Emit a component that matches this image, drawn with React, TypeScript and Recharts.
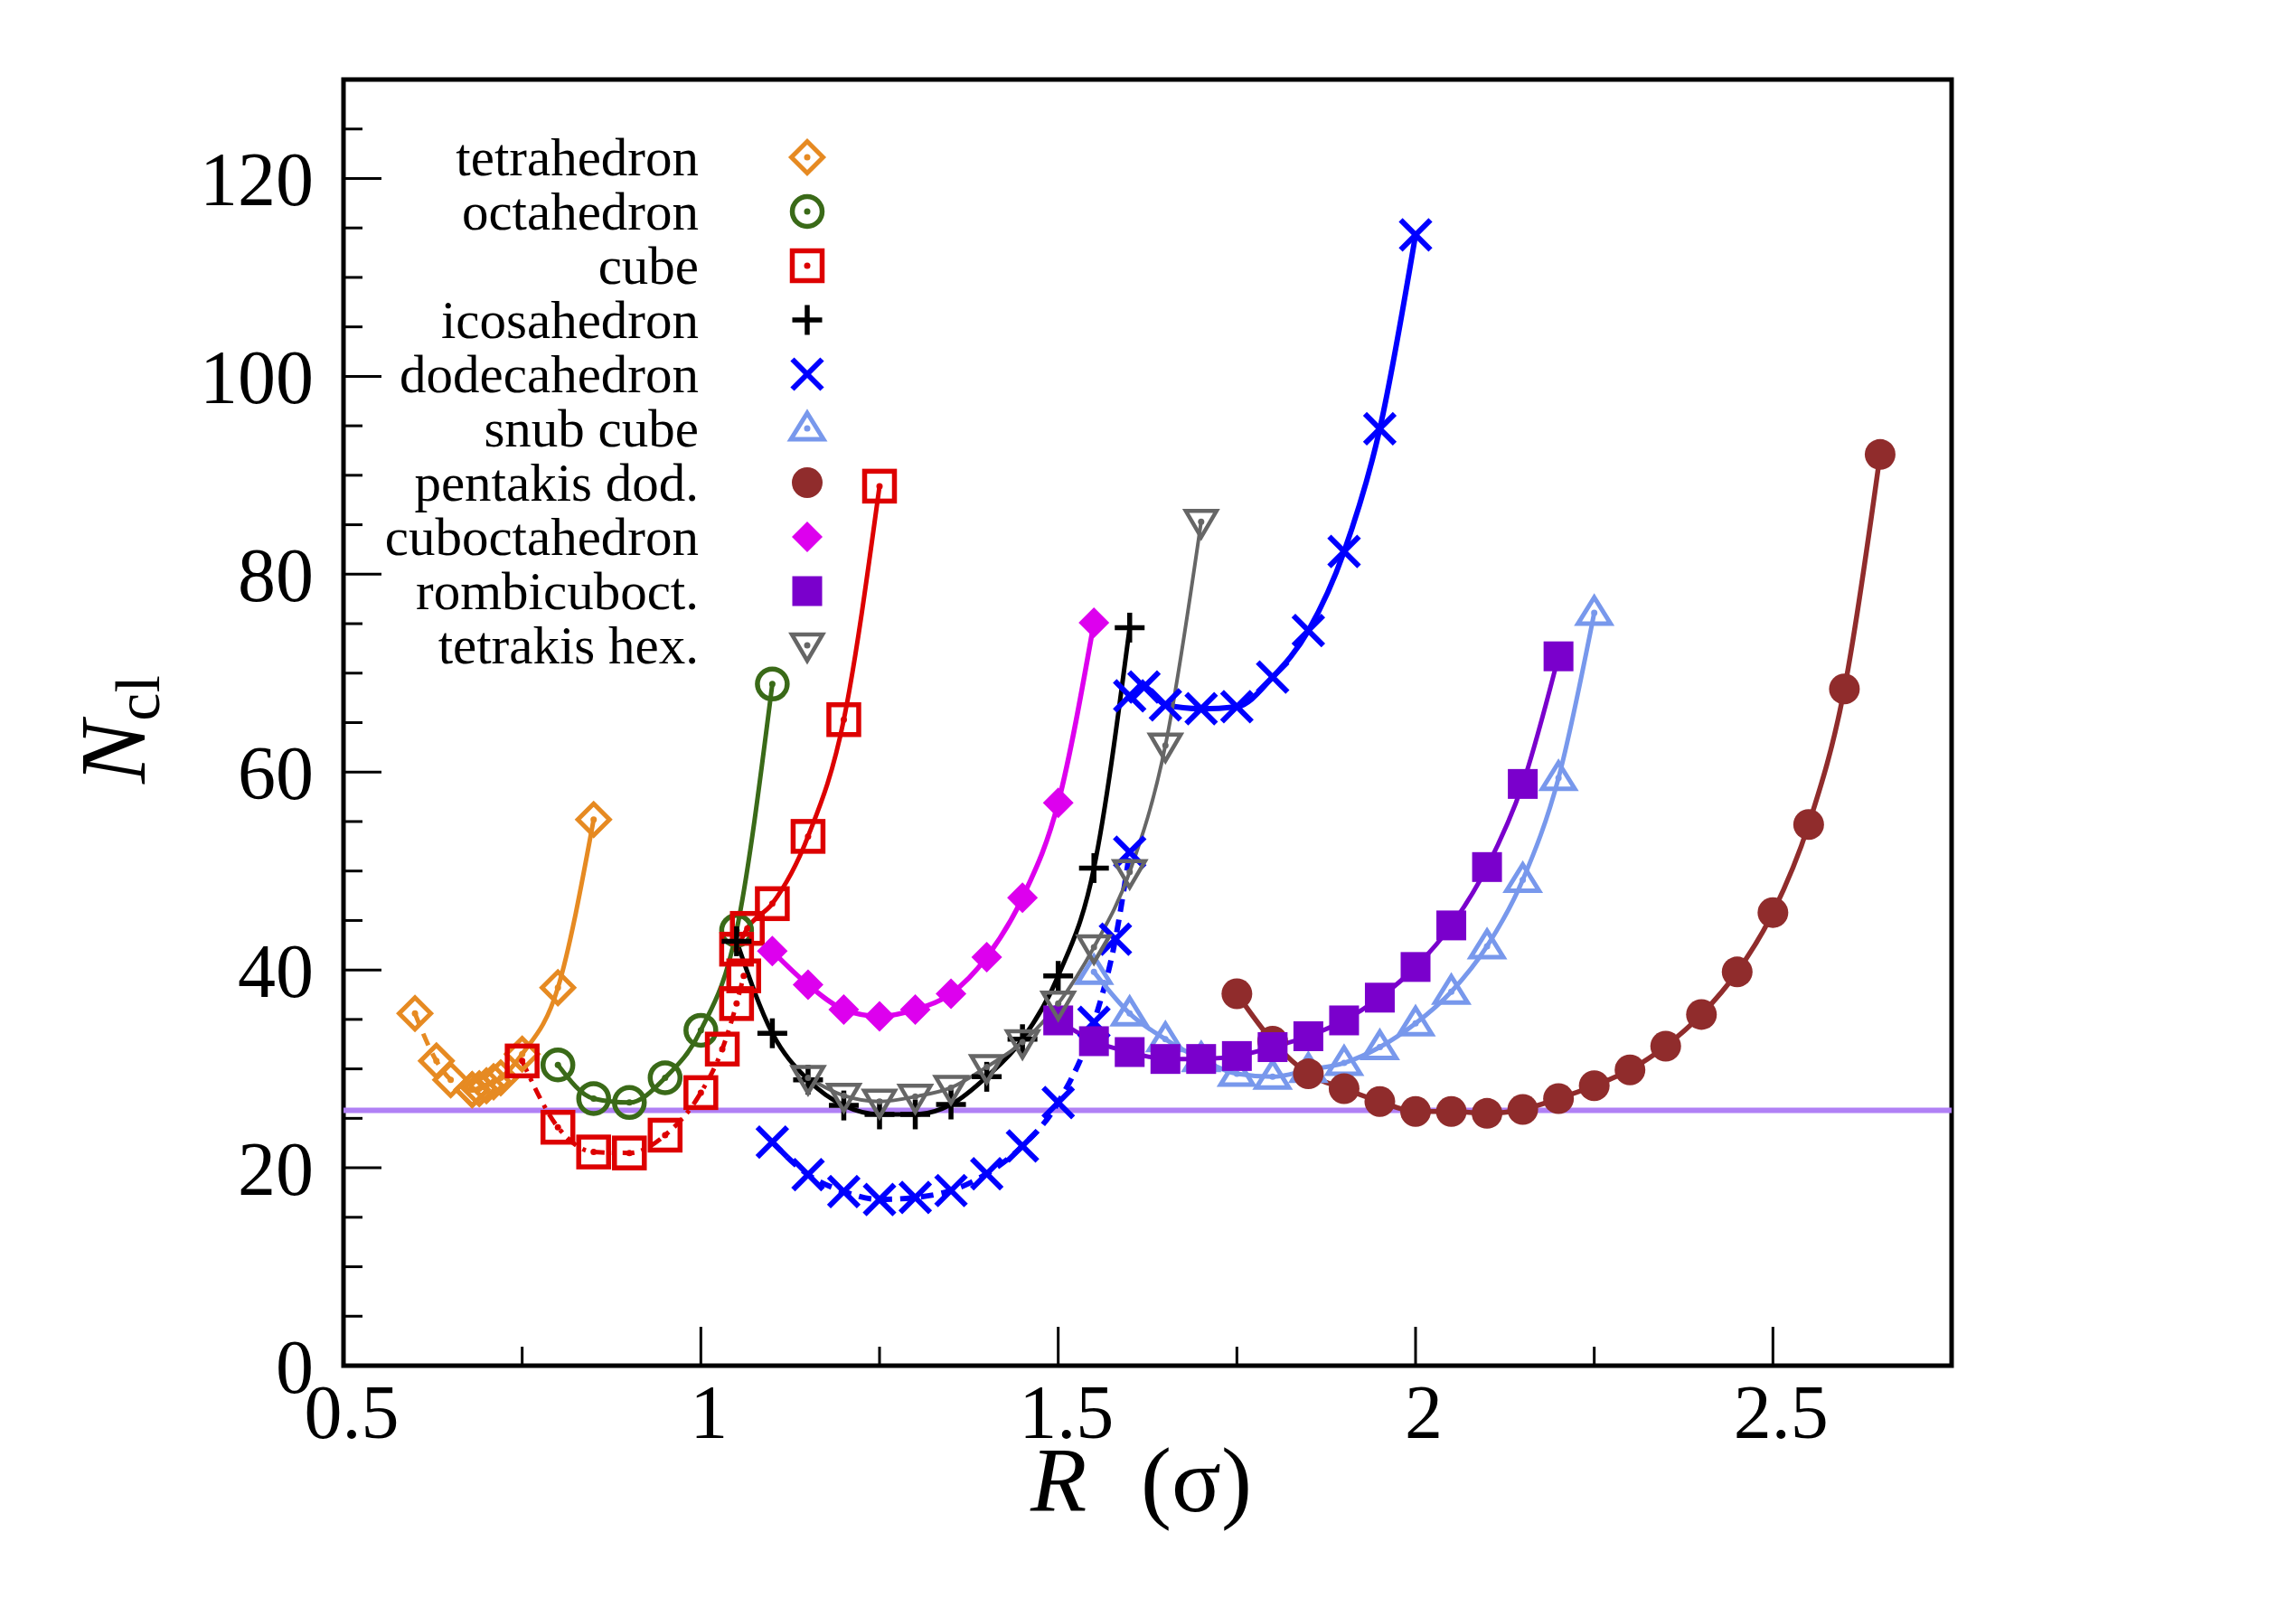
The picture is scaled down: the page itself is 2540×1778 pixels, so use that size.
import React from 'react';
import { LineChart, Line, XAxis, YAxis, ReferenceLine, ReferenceArea } from 'recharts';

const W = 2540;
const H = 1778;
const FONT = "'Liberation Serif', 'DejaVu Serif', serif";

// axis ticks
const xTicks = [0.5, 0.75, 1, 1.25, 1.5, 1.75, 2, 2.25, 2.5, 2.75];
const xTickLabels = [0.5, 1, 1.5, 2, 2.5];
const yTicks = [0, 5, 10, 15, 20, 25, 30, 35, 40, 45, 50, 55, 60, 65, 70, 75, 80, 85, 90, 95, 100, 105, 110, 115, 120, 125];
const yTickLabels = [0, 20, 40, 60, 80, 100, 120];

// horizontal reference level
const thresholdN = 25.8;

// tetrahedron
const tetraR_lo = [0.6, 0.63, 0.65, 0.68];
const tetraN_lo = [35.6, 30.8, 28.9, 27.9];
const tetraR_hi = [0.68, 0.69, 0.7, 0.71, 0.72, 0.75, 0.8, 0.85];
const tetraN_hi = [27.9, 28.0, 28.3, 28.7, 29.1, 31.5, 38.2, 55.2];

// octahedron
const octaR = [0.8, 0.85, 0.9, 0.95, 1.0, 1.05, 1.1];
const octaN = [30.4, 27.0, 26.6, 29.1, 33.9, 44.0, 68.9];

// cube
const cubeR_lo = [0.75, 0.8, 0.85, 0.9, 0.95, 1.0, 1.03, 1.05, 1.06];
const cubeN_lo = [30.8, 24.1, 21.6, 21.5, 23.3, 27.6, 32.0, 36.6, 39.4];
const cubeR_hi = [1.05, 1.065, 1.1, 1.15, 1.2, 1.25];
const cubeN_hi = [42.1, 44.2, 46.7, 53.5, 65.3, 88.9];

// icosahedron
const icoR = [1.05, 1.1, 1.15, 1.2, 1.25, 1.3, 1.35, 1.4, 1.45, 1.5, 1.55, 1.6];
const icoN = [42.9, 33.6, 28.9, 26.3, 25.4, 25.4, 26.4, 29.2, 33.0, 39.4, 50.3, 74.6];

// dodecahedron
const dodecR_lo = [1.1, 1.15, 1.2, 1.25, 1.3, 1.35, 1.4, 1.45, 1.5, 1.55, 1.58, 1.6];
const dodecN_lo = [22.6, 19.3, 17.6, 16.8, 17.0, 17.7, 19.4, 22.2, 26.6, 34.7, 43.1, 51.9];
const dodecR_hi = [1.6, 1.62, 1.65, 1.7, 1.75, 1.8, 1.85, 1.9, 1.95, 2.0];
const dodecN_hi = [67.7, 68.6, 66.8, 66.4, 66.6, 69.6, 74.3, 82.3, 94.7, 114.3];

// snub cube
const snubR = [1.55, 1.6, 1.65, 1.7, 1.75, 1.8, 1.85, 1.9, 1.95, 2.0, 2.05, 2.1, 2.15, 2.2, 2.25];
const snubN = [39.8, 35.6, 33.0, 31.0, 29.5, 29.2, 29.9, 30.6, 32.2, 34.6, 37.8, 42.4, 49.1, 59.4, 76.1];

// pentakis dodecahedron
const pentaR = [1.75, 1.8, 1.85, 1.9, 1.95, 2.0, 2.05, 2.1, 2.15, 2.2, 2.25, 2.3, 2.35, 2.4, 2.45, 2.5, 2.55, 2.6, 2.65];
const pentaN = [37.6, 32.8, 29.5, 28.0, 26.7, 25.7, 25.7, 25.5, 25.9, 27.0, 28.3, 29.9, 32.3, 35.5, 39.8, 45.8, 54.7, 68.4, 92.1];

// cuboctahedron
const cubocR = [1.1, 1.15, 1.2, 1.25, 1.3, 1.35, 1.4, 1.45, 1.5, 1.55];
const cubocN = [41.9, 38.5, 36.0, 35.3, 36.0, 37.6, 41.3, 47.3, 56.9, 75.1];

// rombicuboctahedron
const rombiR = [1.5, 1.55, 1.6, 1.65, 1.7, 1.75, 1.8, 1.85, 1.9, 1.95, 2.0, 2.05, 2.1, 2.15, 2.2];
const rombiN = [34.9, 32.8, 31.7, 31.0, 31.0, 31.3, 32.2, 33.3, 34.9, 37.2, 40.3, 44.5, 50.4, 58.8, 71.7];

// tetrakis hexahedron
const tetrakisR = [1.15, 1.2, 1.25, 1.3, 1.35, 1.4, 1.45, 1.5, 1.55, 1.6, 1.65, 1.7];
const tetrakisN = [29.1, 27.3, 26.7, 27.2, 28.1, 30.2, 32.7, 36.6, 42.3, 49.9, 62.7, 85.3];

type Shape =
  | 'diamondOpen'
  | 'circleOpen'
  | 'squareOpen'
  | 'plus'
  | 'cross'
  | 'triUpOpen'
  | 'circle'
  | 'diamond'
  | 'square'
  | 'triDownOpen';

interface Branch {
  r: number[];
  n: number[];
  dash?: string;
}

interface Series {
  name: string;
  color: string;
  shape: Shape;
  width: number;
  branches: Branch[];
}

const series: Series[] = [
  {
    name: 'tetrahedron',
    color: '#E68A22',
    shape: 'diamondOpen',
    width: 5,
    branches: [
      { r: tetraR_lo, n: tetraN_lo, dash: '14 10' },
      { r: tetraR_hi, n: tetraN_hi },
    ],
  },
  { name: 'octahedron', color: '#3A6A18', shape: 'circleOpen', width: 5, branches: [{ r: octaR, n: octaN }] },
  {
    name: 'cube',
    color: '#DD0000',
    shape: 'squareOpen',
    width: 5,
    branches: [
      { r: cubeR_lo, n: cubeN_lo, dash: '13 8 4 8' },
      { r: cubeR_hi, n: cubeN_hi },
    ],
  },
  { name: 'icosahedron', color: '#000000', shape: 'plus', width: 5, branches: [{ r: icoR, n: icoN }] },
  {
    name: 'dodecahedron',
    color: '#0000FF',
    shape: 'cross',
    width: 6,
    branches: [
      { r: dodecR_lo, n: dodecN_lo, dash: '14 9' },
      { r: dodecR_hi, n: dodecN_hi },
    ],
  },
  { name: 'snub cube', color: '#7898EC', shape: 'triUpOpen', width: 5, branches: [{ r: snubR, n: snubN }] },
  { name: 'pentakis dod.', color: '#902C2C', shape: 'circle', width: 5.5, branches: [{ r: pentaR, n: pentaN }] },
  { name: 'cuboctahedron', color: '#DD00EE', shape: 'diamond', width: 5.5, branches: [{ r: cubocR, n: cubocN }] },
  { name: 'rombicuboct.', color: '#7A00CC', shape: 'square', width: 5, branches: [{ r: rombiR, n: rombiN }] },
  { name: 'tetrakis hex.', color: '#666666', shape: 'triDownOpen', width: 4, branches: [{ r: tetrakisR, n: tetrakisN }] },
];

function Marker({ cx, cy, shape, color }: { cx: number; cy: number; shape: Shape; color: string }) {
  if (cx == null || cy == null || isNaN(cx) || isNaN(cy)) return null;
  const dot = <circle cx={cx} cy={cy} r={3.5} fill={color} />;
  switch (shape) {
    case 'diamondOpen': {
      const s = 17.5;
      return (
        <g>
          <polygon
            points={`${cx},${cy - s} ${cx + s},${cy} ${cx},${cy + s} ${cx - s},${cy}`}
            fill="none"
            stroke={color}
            strokeWidth={5}
          />
          {dot}
        </g>
      );
    }
    case 'circleOpen':
      return (
        <g>
          <circle cx={cx} cy={cy} r={16.5} fill="none" stroke={color} strokeWidth={5.5} />
          {dot}
        </g>
      );
    case 'squareOpen': {
      const s = 16.5;
      return (
        <g>
          <rect x={cx - s} y={cy - s} width={2 * s} height={2 * s} fill="none" stroke={color} strokeWidth={5.5} />
          {dot}
        </g>
      );
    }
    case 'plus': {
      const s = 16.5;
      return (
        <g stroke={color} strokeWidth={5.5}>
          <line x1={cx - s} x2={cx + s} y1={cy} y2={cy} />
          <line x1={cx} x2={cx} y1={cy - s} y2={cy + s} />
        </g>
      );
    }
    case 'cross': {
      const s = 16.5;
      return (
        <g stroke={color} strokeWidth={6}>
          <line x1={cx - s} x2={cx + s} y1={cy - s} y2={cy + s} />
          <line x1={cx - s} x2={cx + s} y1={cy + s} y2={cy - s} />
        </g>
      );
    }
    case 'triUpOpen':
      return (
        <g>
          <polygon
            points={`${cx},${cy - 17} ${cx + 18},${cy + 12} ${cx - 18},${cy + 12}`}
            fill="none"
            stroke={color}
            strokeWidth={5}
          />
          {dot}
        </g>
      );
    case 'triDownOpen':
      return (
        <g>
          <polygon
            points={`${cx - 17},${cy - 12} ${cx + 17},${cy - 12} ${cx},${cy + 17}`}
            fill="none"
            stroke={color}
            strokeWidth={4.5}
          />
          {dot}
        </g>
      );
    case 'circle':
      return <circle cx={cx} cy={cy} r={17} fill={color} />;
    case 'diamond': {
      const s = 17;
      return <polygon points={`${cx},${cy - s} ${cx + s},${cy} ${cx},${cy + s} ${cx - s},${cy}`} fill={color} />;
    }
    case 'square': {
      const s = 16.5;
      return <rect x={cx - s} y={cy - s} width={2 * s} height={2 * s} fill={color} />;
    }
    default:
      return null;
  }
}

const YTick = (props: any) => {
  const { x, y, payload } = props;
  const v = payload.value as number;
  const major = yTickLabels.includes(v);
  return (
    <g>
      <line x1={x} x2={x + (major ? 42 : 21)} y1={y} y2={y} stroke="#000" strokeWidth={3} />
      {major && (
        <text x={x - 33} y={y + 30} textAnchor="end" fontSize={84} fontFamily={FONT} fill="#000">
          {v}
        </text>
      )}
    </g>
  );
};

const XTick = (props: any) => {
  const { x, y, payload } = props;
  const v = payload.value as number;
  const major = xTickLabels.includes(v);
  return (
    <g>
      <line x1={x} x2={x} y1={y} y2={y - (major ? 43 : 21)} stroke="#000" strokeWidth={3} />
      {major && (
        <text x={x + 9} y={y + 80} textAnchor="middle" fontSize={84} fontFamily={FONT} fill="#000">
          {v}
        </text>
      )}
    </g>
  );
};

// Legend placement (page pixels)
const LEG_TEXT_RIGHT = 773;
const LEG_SYMBOL_X = 893;
const LEG_TOP = 174;
const LEG_STEP = 60;

function LegendAndTitles() {
  return (
    <svg
      width={W}
      height={H}
      style={{ position: 'absolute', left: 0, top: 0, pointerEvents: 'none' }}
    >
      {series.map((s, i) => {
        const cy = LEG_TOP + i * LEG_STEP;
        return (
          <g key={s.name}>
            <text x={LEG_TEXT_RIGHT} y={cy + 20} textAnchor="end" fontSize={59} fontFamily={FONT} fill="#000">
              {s.name}
            </text>
            <Marker cx={LEG_SYMBOL_X} cy={cy} shape={s.shape} color={s.color} />
          </g>
        );
      })}
      <text x={1140} y={1672} fontSize={102} fontFamily={FONT} fill="#000">
        <tspan fontStyle="italic">R</tspan>
        <tspan x={1262}>(σ)</tspan>
      </text>
      <text transform="translate(160,867) rotate(-90)" fontSize={104} fontFamily={FONT} fill="#000">
        <tspan fontStyle="italic">N</tspan>
        <tspan fontSize={70} dy={16}>
          cl
        </tspan>
      </text>
    </svg>
  );
}

export default function App() {
  const lines: React.ReactNode[] = [];
  series.forEach((s) => {
    s.branches.forEach((b, bi) => {
      const data = b.r.map((r, k) => ({ r, n: b.n[k] }));
      lines.push(
        <Line
          key={`${s.name}-${bi}`}
          data={data}
          dataKey="n"
          type="monotone"
          stroke={s.color}
          strokeWidth={s.width}
          strokeDasharray={b.dash}
          isAnimationActive={false}
          activeDot={false}
          legendType="none"
          dot={(p: any) => (
            <Marker key={`${s.name}-${bi}-${p.index}`} cx={p.cx} cy={p.cy} shape={s.shape} color={s.color} />
          )}
        />
      );
    });
  });

  return (
    <div style={{ position: 'absolute', left: 0, top: 0, width: W, height: H, background: '#fff' }}>
      <LineChart width={W} height={H} margin={{ top: 88, right: 381, bottom: 0, left: 0 }}>
        <XAxis
          type="number"
          dataKey="r"
          domain={[0.5, 2.75]}
          ticks={xTicks}
          interval={0}
          allowDataOverflow
          height={267}
          axisLine={false}
          tickLine={false}
          tickSize={0}
          tickMargin={0}
          tick={<XTick />}
        />
        <YAxis
          type="number"
          domain={[0, 130]}
          ticks={yTicks}
          interval={0}
          allowDataOverflow
          width={380}
          axisLine={false}
          tickLine={false}
          tickSize={0}
          tickMargin={0}
          tick={<YTick />}
        />
        <ReferenceLine y={thresholdN} stroke="#B080F5" strokeWidth={6} />
        {lines}
        <ReferenceArea x1={0.5} x2={2.75} y1={0} y2={130} fill="none" stroke="#000" strokeWidth={5} />
      </LineChart>
      <LegendAndTitles />
    </div>
  );
}
